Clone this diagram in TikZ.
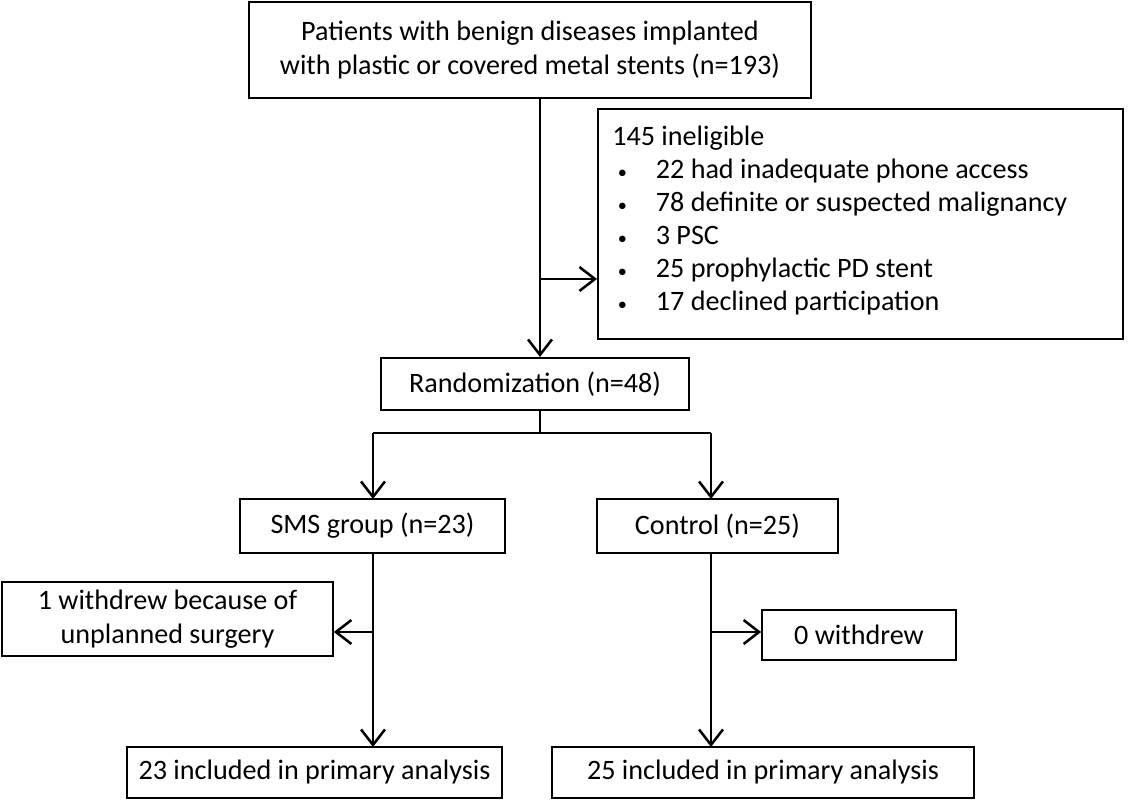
\documentclass[tikz,border=0pt]{standalone}
\usepackage{fontspec}
\setmainfont{Carlito}
\usetikzlibrary{arrows.meta}
\newcommand{\bul}{\makebox[31pt][l]{\hspace{4pt}{\fontsize{13}{13}\selectfont\textbullet}}}
\begin{document}
\begin{tikzpicture}[x=0.025cm,y=-0.025cm,
  box/.style={draw,line width=1.2pt,inner sep=0pt,font=\fontsize{20}{24}\selectfont},
  arr/.style={line width=1.2pt,-{Straight Barb[length=11pt,width=17pt,line width=1.8pt]}},
  ln/.style={line width=1.2pt}]
\useasboundingbox (0,0) rectangle (1134,800);
\node[box,minimum width=562*0.025cm,minimum height=96*0.025cm,align=center] (top) at (530,50) {Patients with benign diseases implanted\\with plastic or covered metal stents (n=193)};
\node[box,minimum width=525*0.025cm,minimum height=230*0.025cm,anchor=north west] (inel) at (597,108) {};
\node[anchor=north west,inner sep=0pt,font=\fontsize{20}{23.4}\selectfont,align=left] (ineltxt) at (612,126) {145 ineligible\\
\bul 22 had inadequate phone access\\
\bul 78 definite or suspected malignancy\\
\bul 3 PSC\\
\bul 25 prophylactic PD stent\\
\bul 17 declined participation};
\node[box,minimum width=308*0.025cm,minimum height=52*0.025cm] (rand) at (535,384) {Randomization (n=48)};
\node[box,minimum width=265*0.025cm,minimum height=54*0.025cm] (sms) at (372.5,526) {SMS group (n=23)};
\node[box,minimum width=241*0.025cm,minimum height=54*0.025cm] (ctl) at (717.5,526) {Control (n=25)};
\node[box,minimum width=331*0.025cm,minimum height=74*0.025cm,align=center] (wd1) at (167.5,619) {1 withdrew because of\\unplanned surgery};
\node[box,minimum width=194*0.025cm,minimum height=50*0.025cm] (wd0) at (859,635) {0 withdrew};
\node[box,minimum width=375*0.025cm,minimum height=51*0.025cm] (inc1) at (314.5,772.5) {23 included in primary analysis};
\node[box,minimum width=422*0.025cm,minimum height=51*0.025cm] (inc2) at (763,772.5) {25 included in primary analysis};
\coordinate (c1) at (540,279);
\coordinate (c2) at (540,433);
\coordinate (c3) at (373,433);
\coordinate (c4) at (711,433);
\coordinate (c5) at (373,632);
\coordinate (c6) at (711,632);
\draw[arr] (540,98) -- (540,357);
\draw[arr] (c1) -- (inel.west|-c1);
\draw[ln] (540,410) -- (c2);
\draw[ln] (c3) -- (c4);
\draw[arr] (c3) -- (373,499);
\draw[arr] (c4) -- (711,499);
\draw[arr] (373,553) -- (373,747);
\draw[arr] (c5) -- (wd1.east|-c5);
\draw[arr] (711,553) -- (711,747);
\draw[arr] (c6) -- (wd0.west|-c6);
\end{tikzpicture}
\end{document}
